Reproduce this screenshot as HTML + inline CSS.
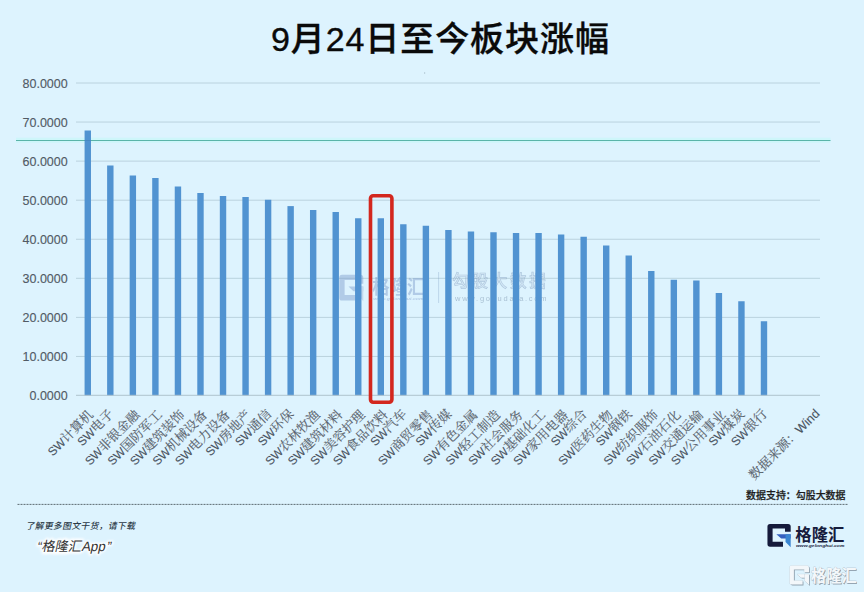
<!DOCTYPE html>
<html lang="zh"><head><meta charset="utf-8"><title>9月24日至今板块涨幅</title>
<style>
html,body{margin:0;padding:0;background:#DDF3FE;}
body{width:864px;height:592px;overflow:hidden;font-family:"Liberation Sans",sans-serif;}
svg{display:block}
defs path{vector-effect:non-scaling-stroke}
</style></head><body>
<svg width="864" height="592" viewBox="0 0 864 592">
<rect width="864" height="592" fill="#DDF3FE"/>
<g id="title"><title>9月24日至今板块涨幅</title><text x="270.97" y="51" font-family="'Liberation Sans','Noto Sans CJK SC',sans-serif" font-size="34.05" font-weight="500" fill="#0a0a0a" stroke="#0a0a0a" stroke-width="0.35" textLength="338" lengthAdjust="spacing">9月24日至今板块涨幅</text></g>
<rect x="424" y="72.5" width="1.2" height="1" fill="#9fb6c2"/>
<g id="grid" stroke="#BAD2DE" stroke-width="1" fill="none">
<path d="M76.0 356.44H820.0"/>
<path d="M76.0 317.38H820.0"/>
<path d="M76.0 278.31H820.0"/>
<path d="M76.0 239.25H820.0"/>
<path d="M76.0 200.19H820.0"/>
<path d="M76.0 161.12H820.0"/>
<path d="M76.0 122.06H820.0"/>
<path d="M76.0 83.00H820.0"/>
</g>
<g id="yaxis" fill="#515A65" stroke="#515A65" stroke-width="0.12" font-family="'Liberation Sans',sans-serif" font-size="12.5" text-anchor="end">
<text x="67.7" y="400.10">0.0000</text>
<text x="67.7" y="361.04">10.0000</text>
<text x="67.7" y="321.98">20.0000</text>
<text x="67.7" y="282.91">30.0000</text>
<text x="67.7" y="243.85">40.0000</text>
<text x="67.7" y="204.79">50.0000</text>
<text x="67.7" y="165.72">60.0000</text>
<text x="67.7" y="126.66">70.0000</text>
<text x="67.7" y="87.60">80.0000</text>
</g>
<g id="wm1" opacity=".42"><title>格隆汇 | 勾股大数据 www.gogudata.com</title>
<g transform="translate(339.30 274.80) scale(1.0323 1.1366)"><path d="M2.6 0H20.65Q23.25 0 23.25 2.6V7.8H17.55V4.6H5.15V17.8H15.55V22.7H2.6Q0 22.7 0 20.1V2.6Q0 0 2.6 0Z" fill="#7595C8"/><path d="M8.9 10.36H23.25V14.38H13.78Z" fill="#7595C8"/><path d="M18.09 10.36H23.25V23.28L18.09 18.1Z" fill="#9DB6D6"/></g>
<text x="372.23" y="293.51" font-family="'Liberation Sans','Noto Sans CJK SC',sans-serif" font-size="19" font-weight="bold" fill="#7595C8" textLength="52" lengthAdjust="spacingAndGlyphs">格隆汇</text>
<text x="373.25" y="299.93" font-family="'Liberation Sans',sans-serif" font-size="4" font-weight="bold" font-style="italic" fill="#7595C8" textLength="50.4" lengthAdjust="spacingAndGlyphs">www.gelonghui.com</text>
<path d="M438.6 272V303" stroke="#7F9CC2" stroke-width="0.8"/>
<text x="452.35" y="287.22" font-family="'Liberation Sans','Noto Sans CJK SC',sans-serif" font-size="16.5" font-weight="500" fill="#C9DAEC" stroke="#6F8DB3" stroke-width="0.7" textLength="93.4" lengthAdjust="spacing">勾股大数据</text>
<text x="455.01" y="300.73" font-family="'Liberation Sans',sans-serif" font-size="7.5" fill="#5E7896" textLength="91.5" lengthAdjust="spacing">www.gogudata.com</text>
</g>
<path d="M16 140.2H830.5" stroke="#BDFBF6" stroke-width="5" opacity=".45" fill="none"/>
<path d="M16 140.5H830.5" stroke="#5AB4A9" stroke-width="1.2" fill="none"/>
<g id="bars" fill="#5193D1">
<rect x="84.58" y="130.50" width="6.4" height="265.00"/>
<rect x="107.12" y="165.50" width="6.4" height="230.00"/>
<rect x="129.66" y="175.50" width="6.4" height="220.00"/>
<rect x="152.20" y="178.00" width="6.4" height="217.50"/>
<rect x="174.74" y="186.50" width="6.4" height="209.00"/>
<rect x="197.28" y="193.00" width="6.4" height="202.50"/>
<rect x="219.82" y="196.00" width="6.4" height="199.50"/>
<rect x="242.36" y="197.00" width="6.4" height="198.50"/>
<rect x="264.90" y="199.75" width="6.4" height="195.75"/>
<rect x="287.44" y="206.10" width="6.4" height="189.40"/>
<rect x="309.98" y="210.00" width="6.4" height="185.50"/>
<rect x="332.52" y="212.00" width="6.4" height="183.50"/>
<rect x="355.06" y="218.25" width="6.4" height="177.25"/>
<rect x="377.60" y="218.25" width="6.4" height="177.25"/>
<rect x="400.14" y="224.25" width="6.4" height="171.25"/>
<rect x="422.68" y="225.75" width="6.4" height="169.75"/>
<rect x="445.22" y="230.00" width="6.4" height="165.50"/>
<rect x="467.76" y="231.50" width="6.4" height="164.00"/>
<rect x="490.30" y="232.25" width="6.4" height="163.25"/>
<rect x="512.84" y="233.00" width="6.4" height="162.50"/>
<rect x="535.38" y="233.00" width="6.4" height="162.50"/>
<rect x="557.92" y="234.50" width="6.4" height="161.00"/>
<rect x="580.46" y="236.75" width="6.4" height="158.75"/>
<rect x="603.00" y="245.50" width="6.4" height="150.00"/>
<rect x="625.54" y="255.50" width="6.4" height="140.00"/>
<rect x="648.08" y="271.00" width="6.4" height="124.50"/>
<rect x="670.62" y="279.75" width="6.4" height="115.75"/>
<rect x="693.16" y="280.50" width="6.4" height="115.00"/>
<rect x="715.70" y="293.00" width="6.4" height="102.50"/>
<rect x="738.24" y="301.25" width="6.4" height="94.25"/>
<rect x="760.78" y="321.25" width="6.4" height="74.25"/>
</g>
<rect x="84.58" y="140" width="6.4" height="1" fill="#3F7FB6" opacity=".55"/>
<path d="M76.0 395.30H820.0" stroke="#AFC3CD" stroke-width="1" fill="none"/>
<rect x="370.5" y="195.7" width="21.4" height="206.5" rx="2.6" ry="2.6" fill="none" stroke="#D3271E" stroke-width="3.6"/>
<g id="xlabels" fill="#59626C" stroke="#59626C" stroke-width="0.12" stroke-linejoin="round" font-family="'Liberation Sans','Noto Serif CJK SC',serif" font-size="13" text-anchor="end">
<text transform="translate(94.04 415.60) rotate(-45)"><tspan font-size="12" fill="#48525E">SW</tspan>计算机</text>
<text transform="translate(114.38 414.80) rotate(-45)"><tspan font-size="12" fill="#48525E">SW</tspan>电子</text>
<text transform="translate(140.42 415.60) rotate(-45)"><tspan font-size="12" fill="#48525E">SW</tspan>非银金融</text>
<text transform="translate(162.96 415.60) rotate(-45)"><tspan font-size="12" fill="#48525E">SW</tspan>国防军工</text>
<text transform="translate(185.50 415.60) rotate(-45)"><tspan font-size="12" fill="#48525E">SW</tspan>建筑装饰</text>
<text transform="translate(208.04 415.60) rotate(-45)"><tspan font-size="12" fill="#48525E">SW</tspan>机械设备</text>
<text transform="translate(230.58 415.60) rotate(-45)"><tspan font-size="12" fill="#48525E">SW</tspan>电力设备</text>
<text transform="translate(251.82 415.60) rotate(-45)"><tspan font-size="12" fill="#48525E">SW</tspan>房地产</text>
<text transform="translate(272.16 414.80) rotate(-45)"><tspan font-size="12" fill="#48525E">SW</tspan>通信</text>
<text transform="translate(294.70 414.80) rotate(-45)"><tspan font-size="12" fill="#48525E">SW</tspan>环保</text>
<text transform="translate(320.74 415.60) rotate(-45)"><tspan font-size="12" fill="#48525E">SW</tspan>农林牧渔</text>
<text transform="translate(343.28 415.60) rotate(-45)"><tspan font-size="12" fill="#48525E">SW</tspan>建筑材料</text>
<text transform="translate(365.82 415.60) rotate(-45)"><tspan font-size="12" fill="#48525E">SW</tspan>美容护理</text>
<text transform="translate(388.36 415.60) rotate(-45)"><tspan font-size="12" fill="#48525E">SW</tspan>食品饮料</text>
<text transform="translate(407.40 414.80) rotate(-45)"><tspan font-size="12" fill="#48525E">SW</tspan>汽车</text>
<text transform="translate(433.44 415.60) rotate(-45)"><tspan font-size="12" fill="#48525E">SW</tspan>商贸零售</text>
<text transform="translate(452.48 414.80) rotate(-45)"><tspan font-size="12" fill="#48525E">SW</tspan>传媒</text>
<text transform="translate(478.52 415.60) rotate(-45)"><tspan font-size="12" fill="#48525E">SW</tspan>有色金属</text>
<text transform="translate(501.06 415.60) rotate(-45)"><tspan font-size="12" fill="#48525E">SW</tspan>轻工制造</text>
<text transform="translate(523.60 415.60) rotate(-45)"><tspan font-size="12" fill="#48525E">SW</tspan>社会服务</text>
<text transform="translate(546.14 415.60) rotate(-45)"><tspan font-size="12" fill="#48525E">SW</tspan>基础化工</text>
<text transform="translate(568.68 415.60) rotate(-45)"><tspan font-size="12" fill="#48525E">SW</tspan>家用电器</text>
<text transform="translate(587.72 414.80) rotate(-45)"><tspan font-size="12" fill="#48525E">SW</tspan>综合</text>
<text transform="translate(613.76 415.60) rotate(-45)"><tspan font-size="12" fill="#48525E">SW</tspan>医药生物</text>
<text transform="translate(632.80 414.80) rotate(-45)"><tspan font-size="12" fill="#48525E">SW</tspan>钢铁</text>
<text transform="translate(658.84 415.60) rotate(-45)"><tspan font-size="12" fill="#48525E">SW</tspan>纺织服饰</text>
<text transform="translate(681.38 415.60) rotate(-45)"><tspan font-size="12" fill="#48525E">SW</tspan>石油石化</text>
<text transform="translate(703.92 415.60) rotate(-45)"><tspan font-size="12" fill="#48525E">SW</tspan>交通运输</text>
<text transform="translate(726.46 415.60) rotate(-45)"><tspan font-size="12" fill="#48525E">SW</tspan>公用事业</text>
<text transform="translate(745.50 414.80) rotate(-45)"><tspan font-size="12" fill="#48525E">SW</tspan>煤炭</text>
<text transform="translate(768.04 414.80) rotate(-45)"><tspan font-size="12" fill="#48525E">SW</tspan>银行</text>
<text transform="translate(820.4 414.3) rotate(-45)">数据来源：<tspan font-size="12.5" fill="#48525E">Wind</tspan></text>
</g>
<g id="support"><title>数据支持：勾股大数据</title><text x="746.10" y="498.60" font-family="'Liberation Sans','Noto Sans CJK SC',sans-serif" font-size="9.95" font-weight="500" fill="#1c1c1c" stroke="#1c1c1c" stroke-width="0.25">数据支持：勾股大数据</text></g>
<path d="M17.5 504.4H848" stroke="#4f5b62" stroke-width="0.9" stroke-dasharray="2 1" fill="none"/>
<g id="f1"><title>了解更多图文干货，请下载</title><text transform="translate(25.70 529.40) skewX(-12)" font-family="'Liberation Sans','Noto Sans CJK SC',sans-serif" font-size="8.8" font-weight="500" letter-spacing="0.36" fill="#2b3947">了解更多图文干货，请下载</text></g>
<filter id="halo" x="-10%" y="-40%" width="120%" height="180%"><feGaussianBlur stdDeviation="0.9"/></filter>
<g id="f2" transform="translate(28.0 551.0) skewX(-12)" font-family="'Liberation Sans','Noto Sans CJK SC',sans-serif" font-size="13.3"><title>“格隆汇App”</title><g filter="url(#halo)" fill="#fff" stroke="#fff" stroke-width="3.2" stroke-linejoin="round" opacity=".95"><text y="0"><tspan x="8.6">“</tspan><tspan x="13.3">格隆汇</tspan><tspan x="53.2">App</tspan><tspan x="78">”</tspan></text></g><g fill="#333"><text y="0"><tspan x="8.6">“</tspan><tspan x="13.3">格隆汇</tspan><tspan x="53.2">App</tspan><tspan x="78">”</tspan></text></g></g>
<g id="logo"><title>格隆汇 www.gelonghui.com</title>
<g transform="translate(767.45 524.00) scale(1.0000 1.0000)"><path d="M2.6 0H20.65Q23.25 0 23.25 2.6V7.8H17.55V4.6H5.15V17.8H15.55V22.7H2.6Q0 22.7 0 20.1V2.6Q0 0 2.6 0Z" fill="#151A3B"/><path d="M8.9 10.36H23.25V14.38H13.78Z" fill="#3560C0"/><path d="M18.09 10.36H23.25V23.28L18.09 18.1Z" fill="#3A86D2"/></g>
<text x="795.35" y="541.02" font-family="'Liberation Sans','Noto Sans CJK SC',sans-serif" font-size="17.3" font-weight="bold" fill="#171C3D" textLength="49" lengthAdjust="spacingAndGlyphs">格隆汇</text>
<text x="795.96" y="546.91" font-family="'Liberation Sans',sans-serif" font-size="3.8" font-weight="bold" font-style="italic" fill="#171C3D" textLength="48.4" lengthAdjust="spacingAndGlyphs">www.gelonghui.com</text>
</g>
<g id="wm2"><title>格隆汇</title>
<g transform="translate(0.9 0.9)" opacity="0.85">
<g transform="translate(789.60 565.60) scale(0.8344 0.8370)"><path d="M2.6 0H20.65Q23.25 0 23.25 2.6V7.8H17.55V4.6H5.15V17.8H15.55V22.7H2.6Q0 22.7 0 20.1V2.6Q0 0 2.6 0Z" fill="#8595A3"/><path d="M8.9 10.36H23.25V14.38H13.78Z" fill="#8595A3"/><path d="M18.09 10.36H23.25V23.28L18.09 18.1Z" fill="#8595A3"/></g>
<text x="811.07" y="582.06" font-family="'Liberation Sans','Noto Sans CJK SC',sans-serif" font-size="16.5" font-weight="bold" fill="#8595A3" textLength="45.6" lengthAdjust="spacingAndGlyphs">格隆汇</text>
</g>
<g transform="translate(0 0)" opacity="1" stroke="#9DAEBB" stroke-width="0.45" paint-order="stroke">
<g transform="translate(789.60 565.60) scale(0.8344 0.8370)"><path d="M2.6 0H20.65Q23.25 0 23.25 2.6V7.8H17.55V4.6H5.15V17.8H15.55V22.7H2.6Q0 22.7 0 20.1V2.6Q0 0 2.6 0Z" fill="#F3F7FA"/><path d="M8.9 10.36H23.25V14.38H13.78Z" fill="#F3F7FA"/><path d="M18.09 10.36H23.25V23.28L18.09 18.1Z" fill="#F3F7FA"/></g>
<text x="811.07" y="582.06" font-family="'Liberation Sans','Noto Sans CJK SC',sans-serif" font-size="16.5" font-weight="bold" fill="#F3F7FA" textLength="45.6" lengthAdjust="spacingAndGlyphs">格隆汇</text>
</g>
</g>
</svg>
</body></html>
